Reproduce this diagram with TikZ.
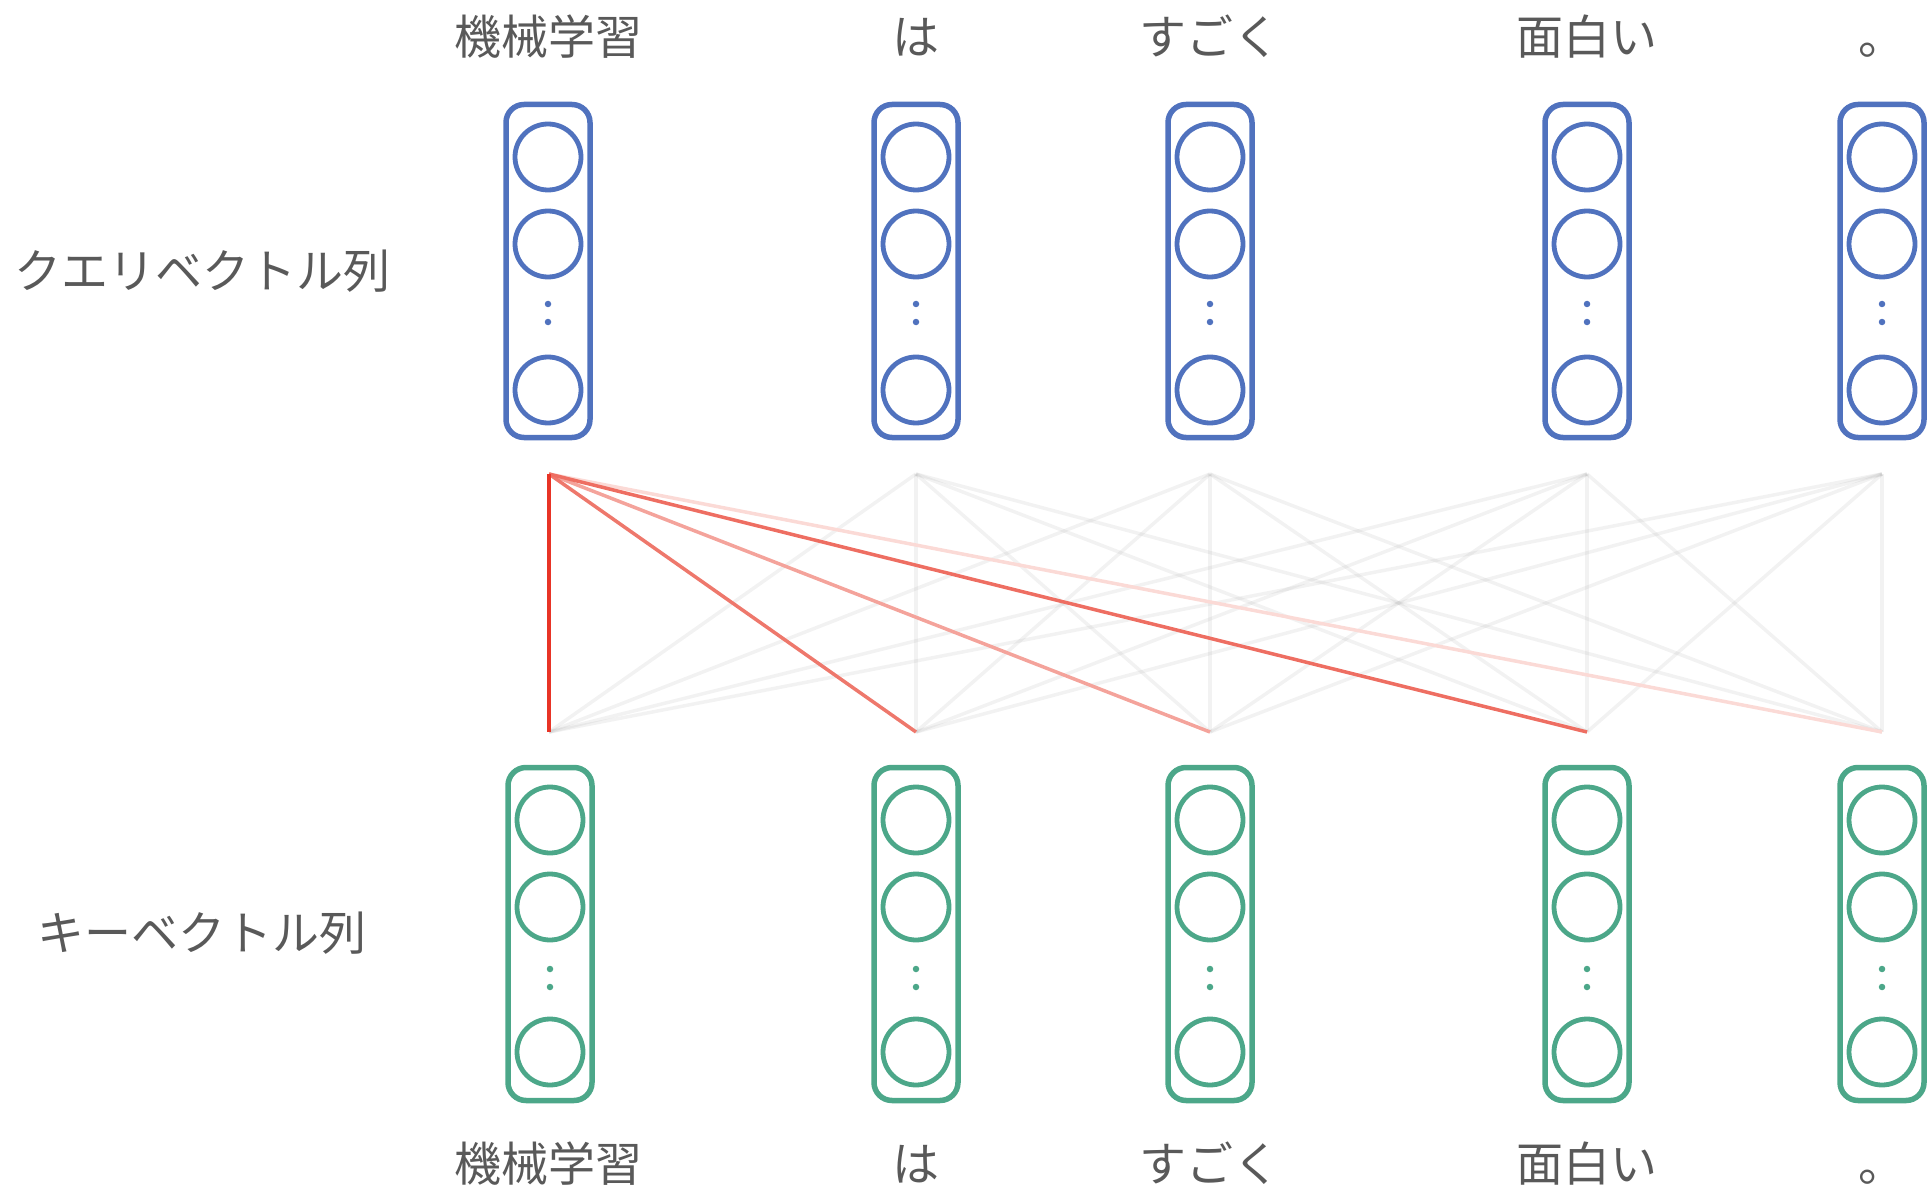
\documentclass[tikz,border=0pt]{standalone}
\usepackage{fontspec}
\newfontfamily\jp{Noto Sans CJK JP}
\definecolor{qblue}{RGB}{80,114,190}
\definecolor{kgreen}{RGB}{76,167,137}
\definecolor{txtgray}{RGB}{89,89,89}
\definecolor{gline}{RGB}{150,150,150}
\definecolor{rA}{RGB}{232,52,38}
\definecolor{rB}{RGB}{238,120,108}
\definecolor{rC}{RGB}{244,163,155}
\definecolor{rD}{RGB}{238,110,98}
\definecolor{rE}{RGB}{251,218,214}
\begin{document}
\begin{tikzpicture}[x=1pt,y=-1pt,
  vecbox/.style={draw, line width=5.5pt, rounded corners=18pt, minimum width=84pt, minimum height=333pt, inner sep=0pt},
  unit/.style={circle, draw, line width=4.8pt, minimum size=66pt, inner sep=0pt},
  vdot/.style={circle, fill, inner sep=0pt, minimum size=6.5pt},
  lbl/.style={font=\jp\fontsize{47}{56}\selectfont, text=txtgray, anchor=base, inner sep=0pt},
  link/.style={line width=3.5pt},
  glink/.style={link, draw=gline, draw opacity=0.12}]
\useasboundingbox (0,0) rectangle (1930,1198);

% query vectors (top)
\foreach \i/\x in {1/548,2/916,3/1210,4/1587,5/1882}{
  \node[vecbox, draw=qblue] (qbox\i) at (\x,271) {};
  \node[unit, draw=qblue] (qu\i a) at (\x,157) {};
  \node[unit, draw=qblue] (qu\i b) at (\x,244) {};
  \node[vdot, fill=qblue] (qd\i a) at (\x,304) {};
  \node[vdot, fill=qblue] (qd\i b) at (\x,322) {};
  \node[unit, draw=qblue] (qu\i c) at (\x,390) {};
}
\foreach \i/\x in {1/549,2/916,3/1210,4/1587,5/1882}{
  \coordinate (qa\i) at (\x,474);
}
% key vectors (bottom)
\foreach \i/\x in {1/550,2/916,3/1210,4/1587,5/1882}{
  \node[vecbox, draw=kgreen] (kbox\i) at (\x,934) {};
  \node[unit, draw=kgreen] (ku\i a) at (\x,820) {};
  \node[unit, draw=kgreen] (ku\i b) at (\x,907) {};
  \node[vdot, fill=kgreen] (kd\i a) at (\x,969) {};
  \node[vdot, fill=kgreen] (kd\i b) at (\x,987) {};
  \node[unit, draw=kgreen] (ku\i c) at (\x,1052) {};
}
\foreach \i/\x in {1/549,2/916,3/1210,4/1587,5/1882}{
  \coordinate (kb\i) at (\x,732);
}

% faint links
\foreach \i in {2,3,4,5}{
  \foreach \j in {1,2,3,4,5}{
    \draw[glink] (qa\i) -- (kb\j);
  }
}
% attention links from the first query
\draw[link, draw=rE] (qa1) -- (kb5);
\draw[link, draw=rC] (qa1) -- (kb3);
\draw[link, draw=rB] (qa1) -- (kb2);
\draw[link, draw=rD] (qa1) -- (kb4);
\draw[link, line width=4pt, draw=rA] (qa1) -- (kb1);

% word labels
\node[lbl] (tw1) at (548,55) {機械学習};
\node[lbl] (tw2) at (916,55) {は};
\node[lbl] (tw3) at (1210,55) {すごく};
\node[lbl] (tw4) at (1587,55) {面白い};
\node[lbl] (tw5) at (1882,55) {。};
\node[lbl] (bw1) at (548,1181) {機械学習};
\node[lbl] (bw2) at (916,1181) {は};
\node[lbl] (bw3) at (1210,1181) {すごく};
\node[lbl] (bw4) at (1587,1181) {面白い};
\node[lbl] (bw5) at (1882,1181) {。};

% row labels
\node[lbl] (qlabel) at (202,289) {クエリベクトル列};
\node[lbl] (klabel) at (202,950) {キーベクトル列};
\end{tikzpicture}
\end{document}
